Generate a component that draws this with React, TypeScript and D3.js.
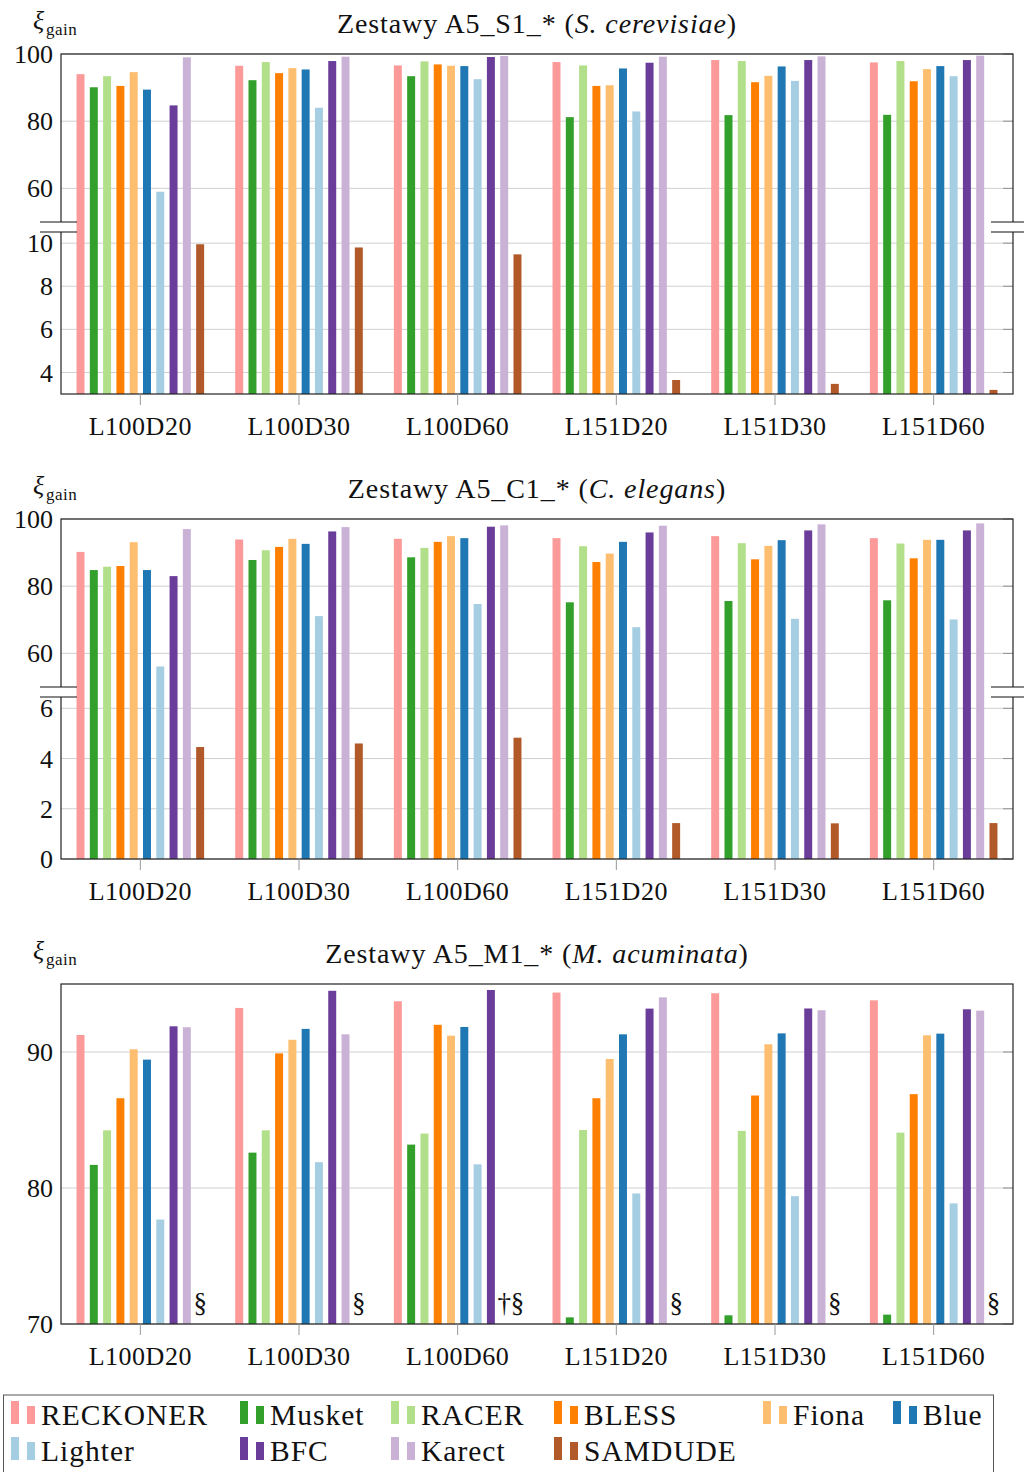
import React from "react";
import * as d3 from "d3";

const groups = ["L100D20", "L100D30", "L100D60", "L151D20", "L151D30", "L151D60"];
const tools = ["RECKONER", "Musket", "RACER", "BLESS", "Fiona", "Blue", "Lighter", "BFC", "Karect", "SAMDUDE"];
const toolColors = ["#fb9a99", "#33a02c", "#b2df8a", "#ff7f00", "#fdbf6f", "#1f78b4", "#a6cee3", "#6a3d9a", "#cab2d6", "#b15928"];

// xi_gain per dataset (rows) and tool (columns, same order as tools)
const scerGain = [
  [94.0, 90.1, 93.4, 90.5, 94.6, 89.4, 59.0, 84.7, 99.0, 9.95],
  [96.5, 92.2, 97.6, 94.3, 95.8, 95.4, 84.0, 97.9, 99.2, 9.8],
  [96.6, 93.4, 97.8, 96.9, 96.5, 96.4, 92.5, 99.1, 99.4, 9.48],
  [97.6, 81.2, 96.6, 90.5, 90.7, 95.7, 82.9, 97.4, 99.2, 3.65],
  [98.2, 81.8, 97.9, 91.6, 93.5, 96.3, 92.0, 98.2, 99.3, 3.47],
  [97.5, 81.9, 97.9, 91.9, 95.5, 96.4, 93.4, 98.2, 99.5, 3.19],
];
const celGain = [
  [90.2, 84.8, 85.8, 86.0, 93.1, 84.8, 56.1, 83.0, 97.0, 4.46],
  [93.9, 87.8, 90.7, 91.7, 94.1, 92.6, 71.1, 96.3, 97.6, 4.6],
  [94.1, 88.6, 91.4, 93.2, 94.9, 94.3, 74.7, 97.7, 98.1, 4.83],
  [94.3, 75.2, 91.9, 87.2, 89.7, 93.2, 67.8, 96.0, 98.0, 1.43],
  [94.9, 75.6, 92.8, 88.0, 92.0, 93.7, 70.3, 96.6, 98.4, 1.42],
  [94.3, 75.8, 92.7, 88.3, 93.8, 93.8, 70.1, 96.6, 98.7, 1.43],
];
const macGain = [
  [91.25, 81.7, 84.24, 86.6, 90.2, 89.44, 77.68, 91.89, 91.82, null],
  [93.24, 82.6, 84.24, 89.9, 90.9, 91.7, 81.9, 94.5, 91.3, null],
  [93.73, 83.19, 84.0, 92.0, 91.2, 91.84, 81.74, 94.56, null, null],
  [94.37, 70.49, 84.26, 86.6, 89.49, 91.3, 79.6, 93.19, 94.02, null],
  [94.32, 70.64, 84.2, 86.8, 90.57, 91.37, 79.4, 93.2, 93.07, null],
  [93.8, 70.69, 84.07, 86.9, 91.23, 91.35, 78.87, 93.14, 93.04, null],
];
// marks written instead of a missing bar
const missingMarks: Record<string, string> = { Karect: "†", SAMDUDE: "§" };

// broken axes: lower part, then upper part
const scerDomain = [3, 10.75, 48.5, 100];
const scerTicks = [4, 6, 8, 10, 60, 80, 100];
const celDomain = [0, 6.65, 48.5, 100];
const celTicks = [0, 2, 4, 6, 60, 80, 100];
const macDomain = [70, 95];
const macTicks = [70, 80, 90];

const font = "'Liberation Serif', 'DejaVu Serif', serif";
const plotLeft = 61;
const plotW = 952;
const plotH = 340;
const breakAt = 173;

function Panel({ top, name, species, values, domain, ticks }: any) {
  const broken = domain.length === 4;
  const x = d3.scaleBand().domain(groups).range([0, plotW]).padding(0);
  const inner = d3.scaleBand().domain(tools).range([-63.8, 63.8]).paddingInner(0.4).paddingOuter(0);
  const y = d3
    .scaleLinear()
    .domain(domain)
    .range(broken ? [plotH, breakAt, breakAt, 0] : [plotH, 0]);
  const base = y(domain[0]);
  const cx = (g: string) => (x(g) as number) + x.bandwidth() / 2;

  return (
    <g transform={`translate(${plotLeft},${top})`} fontFamily={font}>
      {/* y label */}
      <text x={-28} y={-25} fontSize={26} fontStyle="italic" fill="#111">ξ</text>
      <text x={-15} y={-19} fontSize={17} fill="#111" letterSpacing={0.5}>gain</text>
      {/* title */}
      <text x={plotW / 2} y={-21} fontSize={28} textAnchor="middle" fill="#111" letterSpacing={0.9}>
        {`Zestawy ${name}_* (`}
        <tspan fontStyle="italic">{species}</tspan>
        {")"}
      </text>
      {/* grid */}
      {ticks.map((t: number) => (
        <g key={"g" + t}>
          <line x1={0} x2={plotW} y1={y(t)} y2={y(t)} stroke="#d0d0d0" strokeWidth={1} />
          <line x1={plotW - 10} x2={plotW} y1={y(t)} y2={y(t)} stroke="#909090" strokeWidth={1} />
          <text x={-8} y={y(t)} dy="0.35em" fontSize={26} textAnchor="end" fill="#111">
            {t}
          </text>
        </g>
      ))}
      {/* bars */}
      {groups.map((g, gi) => (
        <g key={g} transform={`translate(${cx(g)},0)`}>
          {tools.map((tool, ti) => {
            const v = values[gi][ti];
            const bx = inner(tool) as number;
            if (v === null) {
              return (
                <text key={tool} x={bx + inner.bandwidth() / 2} y={plotH - 12} fontSize={27} textAnchor="middle" fill="#111">
                  {missingMarks[tool]}
                </text>
              );
            }
            return (
              <rect
                key={tool}
                x={bx}
                y={y(v)}
                width={inner.bandwidth()}
                height={base - y(v)}
                fill={toolColors[ti]}
              />
            );
          })}
        </g>
      ))}
      {/* frame */}
      <rect x={0} y={0} width={plotW} height={plotH} fill="none" stroke="#222" strokeWidth={1.2} />
      {/* x ticks */}
      {groups.map((g) => (
        <g key={"x" + g}>
          <line x1={cx(g)} x2={cx(g)} y1={plotH} y2={plotH + 11} stroke="#999" strokeWidth={1} />
          <text x={cx(g)} y={plotH + 41} fontSize={26} textAnchor="middle" fill="#111" letterSpacing={0.5}>
            {g}
          </text>
        </g>
      ))}
      {/* axis break marks */}
      {broken && (
        <g>
          <rect x={-21} y={breakAt - 5} width={36} height={10} fill="#fff" />
          <rect x={plotW - 22} y={breakAt - 5} width={40} height={10} fill="#fff" />
          {[-5, 5].map((d) => (
            <g key={"b" + d}>
              <line x1={-21} x2={16} y1={breakAt + d} y2={breakAt + d} stroke="#111" strokeWidth={1.2} />
              <line x1={plotW - 22} x2={plotW + 16} y1={breakAt + d} y2={breakAt + d} stroke="#111" strokeWidth={1.2} />
            </g>
          ))}
        </g>
      )}
    </g>
  );
}

const legendRows = [
  ["RECKONER", "Musket", "RACER", "BLESS", "Fiona", "Blue"],
  ["Lighter", "BFC", "Karect", "SAMDUDE"],
];
const legendCols = [11, 240, 391, 554, 763, 893];

function Legend() {
  return (
    <g fontFamily={font}>
      <rect x={3.5} y={1395} width={990} height={90} fill="#fff" stroke="#555" strokeWidth={1} />
      {legendRows.map((row, ri) =>
        row.map((tool, ci) => {
          const lx = legendCols[ci];
          const by = 1424 + ri * 36;
          const color = toolColors[tools.indexOf(tool)];
          return (
            <g key={tool}>
              <rect x={lx} y={by - 23} width={8} height={23} fill={color} />
              <rect x={lx + 16} y={by - 18} width={8} height={18} fill={color} />
              <text x={lx + 30} y={by + 1} fontSize={29.5} fill="#111" letterSpacing={1}>
                {tool}
              </text>
            </g>
          );
        })
      )}
    </g>
  );
}

export default function App() {
  return (
    <svg
      width={1024}
      height={1472}
      style={{ position: "absolute", left: 0, top: 0, background: "#fff" }}
    >
      <rect width={1024} height={1472} fill="#fff" />
      <Panel top={54} name="A5_S1" species="S. cerevisiae" values={scerGain} domain={scerDomain} ticks={scerTicks} />
      <Panel top={519} name="A5_C1" species="C. elegans" values={celGain} domain={celDomain} ticks={celTicks} />
      <Panel top={984} name="A5_M1" species="M. acuminata" values={macGain} domain={macDomain} ticks={macTicks} />
      <Legend />
    </svg>
  );
}
